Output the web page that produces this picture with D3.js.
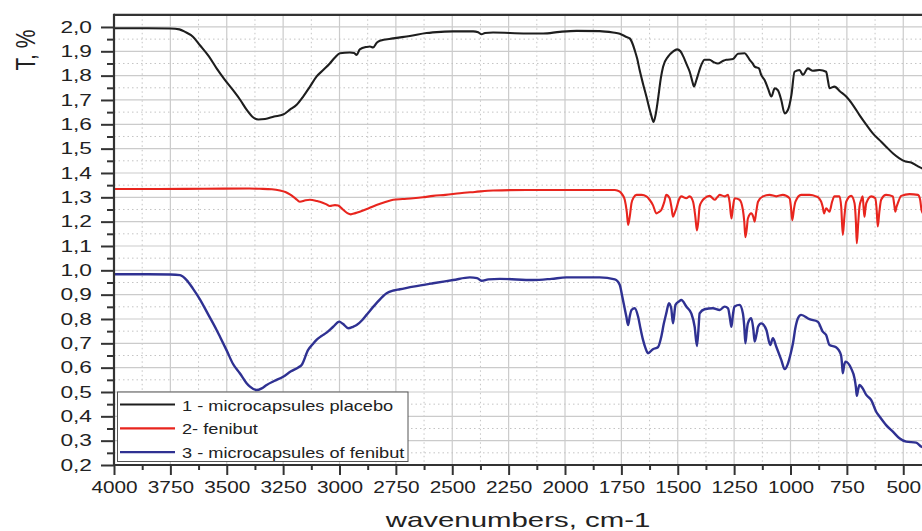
<!DOCTYPE html>
<html>
<head>
<meta charset="utf-8">
<script src="https://cdn.jsdelivr.net/npm/d3@7"></script>
<style>
body { margin: 0; background: #fff; }
svg { font-family: "Liberation Sans", Arial, sans-serif; }
</style>
</head>
<body>
<svg id="chart" width="922" height="531"></svg>
<script>
// spectres IR : [nombre d'onde cm-1, T]
const placebo = [[4000,1.995],[3850,1.995],[3750,1.994],[3710,1.99],[3685,1.98],[3650,1.96],[3619,1.925],[3580,1.88],[3545,1.83],[3510,1.785],[3472,1.74],[3440,1.70],[3412,1.66],[3385,1.63],[3360,1.62],[3330,1.622],[3290,1.632],[3250,1.64],[3220,1.66],[3190,1.68],[3161,1.714],[3131,1.755],[3102,1.796],[3070,1.825],[3043,1.85],[3020,1.875],[2998,1.892],[2954,1.895],[2935,1.893],[2924,1.885],[2910,1.908],[2880,1.918],[2865,1.92],[2851,1.916],[2835,1.935],[2821,1.943],[2762,1.953],[2688,1.963],[2614,1.975],[2550,1.98],[2496,1.982],[2407,1.982],[2385,1.978],[2370,1.97],[2355,1.975],[2319,1.977],[2171,1.973],[2097,1.973],[2023,1.98],[1949,1.984],[1846,1.983],[1787,1.977],[1757,1.972],[1730,1.96],[1713,1.953],[1700,1.93],[1691,1.905],[1680,1.87],[1669,1.823],[1655,1.77],[1639,1.714],[1620,1.645],[1607,1.61],[1598,1.64],[1588,1.70],[1575,1.79],[1565,1.837],[1543,1.878],[1520,1.90],[1503,1.908],[1488,1.9],[1475,1.878],[1460,1.845],[1447,1.816],[1435,1.775],[1428,1.755],[1418,1.78],[1406,1.816],[1395,1.845],[1381,1.865],[1359,1.865],[1340,1.855],[1322,1.85],[1300,1.86],[1285,1.865],[1255,1.868],[1233,1.89],[1203,1.892],[1190,1.878],[1181,1.865],[1168,1.85],[1159,1.837],[1140,1.83],[1130,1.803],[1115,1.782],[1100,1.748],[1085,1.714],[1070,1.748],[1056,1.74],[1041,1.70],[1026,1.645],[1011,1.66],[996,1.72],[982,1.816],[960,1.823],[945,1.803],[923,1.83],[901,1.82],[871,1.823],[842,1.816],[834,1.78],[827,1.748],[805,1.755],[780,1.735],[753,1.714],[720,1.675],[694,1.638],[665,1.60],[635,1.563],[605,1.535],[576,1.508],[545,1.48],[517,1.46],[490,1.447],[465,1.443],[440,1.43],[419,1.42],[400,1.415]];

const fenibut = [[4000,1.334],[3800,1.334],[3600,1.335],[3400,1.336],[3353,1.335],[3300,1.333],[3264,1.328],[3240,1.322],[3220,1.312],[3195,1.295],[3176,1.282],[3150,1.288],[3131,1.29],[3100,1.285],[3087,1.282],[3060,1.272],[3043,1.264],[3020,1.268],[3006,1.266],[2985,1.25],[2965,1.235],[2950,1.23],[2930,1.235],[2910,1.241],[2870,1.255],[2836,1.268],[2800,1.28],[2762,1.29],[2720,1.293],[2673,1.296],[2630,1.30],[2585,1.306],[2530,1.31],[2466,1.317],[2400,1.322],[2319,1.328],[2171,1.33],[2000,1.33],[1802,1.33],[1779,1.33],[1757,1.323],[1745,1.31],[1735,1.29],[1726,1.24],[1720,1.186],[1713,1.22],[1705,1.276],[1695,1.3],[1683,1.31],[1660,1.31],[1639,1.304],[1625,1.29],[1610,1.268],[1595,1.234],[1583,1.24],[1573,1.248],[1560,1.28],[1551,1.31],[1536,1.296],[1528,1.26],[1521,1.22],[1514,1.235],[1506,1.255],[1495,1.29],[1484,1.304],[1462,1.296],[1447,1.304],[1432,1.282],[1422,1.22],[1415,1.164],[1409,1.2],[1403,1.262],[1392,1.285],[1381,1.296],[1359,1.306],[1336,1.29],[1325,1.3],[1314,1.31],[1292,1.304],[1277,1.31],[1270,1.28],[1262,1.213],[1255,1.26],[1248,1.296],[1226,1.29],[1211,1.248],[1205,1.2],[1200,1.136],[1194,1.17],[1189,1.213],[1174,1.234],[1165,1.22],[1159,1.20],[1152,1.24],[1144,1.282],[1122,1.304],[1093,1.31],[1063,1.304],[1034,1.31],[1004,1.296],[998,1.26],[992,1.206],[985,1.25],[978,1.282],[953,1.31],[916,1.31],[887,1.304],[872,1.295],[864,1.282],[857,1.26],[851,1.234],[842,1.255],[827,1.241],[816,1.28],[805,1.304],[783,1.304],[775,1.26],[768,1.145],[761,1.22],[753,1.282],[731,1.306],[716,1.276],[710,1.2],[706,1.111],[700,1.19],[694,1.262],[686,1.29],[680,1.304],[676,1.26],[672,1.22],[668,1.25],[664,1.276],[642,1.304],[624,1.296],[618,1.25],[613,1.18],[606,1.24],[598,1.29],[576,1.31],[546,1.304],[540,1.27],[535,1.241],[530,1.26],[524,1.276],[509,1.306],[472,1.313],[435,1.31],[425,1.29],[419,1.248],[410,1.23]];

const microFenibut = [[4000,0.984],[3850,0.984],[3750,0.983],[3707,0.98],[3678,0.96],[3650,0.925],[3619,0.881],[3580,0.815],[3545,0.755],[3530,0.727],[3500,0.67],[3472,0.615],[3442,0.577],[3412,0.536],[3397,0.522],[3368,0.508],[3345,0.515],[3323,0.529],[3290,0.545],[3250,0.563],[3215,0.585],[3183,0.601],[3168,0.611],[3139,0.673],[3120,0.695],[3102,0.714],[3080,0.73],[3057,0.744],[3028,0.768],[3001,0.789],[2985,0.78],[2961,0.762],[2940,0.768],[2924,0.775],[2900,0.795],[2880,0.817],[2836,0.865],[2791,0.906],[2760,0.917],[2732,0.922],[2673,0.933],[2585,0.947],[2496,0.96],[2422,0.971],[2390,0.968],[2370,0.957],[2340,0.963],[2289,0.965],[2142,0.96],[2060,0.965],[1994,0.971],[1846,0.971],[1779,0.963],[1757,0.94],[1746,0.892],[1737,0.851],[1728,0.81],[1720,0.775],[1713,0.81],[1705,0.837],[1691,0.844],[1676,0.81],[1665,0.76],[1654,0.714],[1643,0.68],[1632,0.659],[1610,0.676],[1588,0.684],[1573,0.727],[1562,0.78],[1551,0.823],[1539,0.865],[1529,0.844],[1521,0.782],[1510,0.858],[1495,0.872],[1484,0.878],[1462,0.851],[1440,0.823],[1425,0.768],[1415,0.689],[1408,0.76],[1403,0.823],[1381,0.84],[1344,0.844],[1314,0.837],[1292,0.851],[1277,0.844],[1268,0.8],[1262,0.768],[1255,0.82],[1248,0.851],[1226,0.858],[1211,0.823],[1205,0.77],[1200,0.70],[1194,0.75],[1189,0.782],[1174,0.803],[1165,0.76],[1159,0.707],[1150,0.74],[1144,0.768],[1130,0.782],[1107,0.755],[1090,0.693],[1078,0.721],[1063,0.686],[1041,0.632],[1026,0.594],[1011,0.618],[1000,0.655],[989,0.70],[978,0.765],[967,0.803],[953,0.817],[916,0.799],[879,0.789],[857,0.748],[842,0.734],[827,0.693],[798,0.684],[776,0.652],[772,0.62],[768,0.577],[762,0.61],[756,0.625],[731,0.597],[716,0.556],[710,0.52],[706,0.484],[700,0.51],[694,0.529],[680,0.515],[664,0.488],[642,0.467],[620,0.419],[605,0.399],[576,0.364],[546,0.337],[517,0.31],[487,0.296],[443,0.292],[419,0.275],[400,0.27]];

const seriesNames = ["1 - microcapsules placebo", "2- fenibut", "3 - microcapsules of fenibut"];
const seriesColors = ["#1e1e1e", "#e8251e", "#2f3192"];

const xTickValues = [4000,3750,3500,3250,3000,2750,2500,2250,2000,1750,1500,1250,1000,750,500];
const yTickValues = [0.2,0.3,0.4,0.5,0.6,0.7,0.8,0.9,1.0,1.1,1.2,1.3,1.4,1.5,1.6,1.7,1.8,1.9,2.0];

const xTitle = "wavenumbers, cm-1";
const yTitle = "T, %";

// géométrie
const pLeft = 114, pRight = 925.8, pTop = 14.8, pBottom = 465;
const sx = 1.3;   // l'image d'origine est étirée en largeur

const x = d3.scaleLinear().domain([4000, 400]).range([pLeft, pRight]);
const y = d3.scaleLinear().domain([0.2, 2.05]).range([pBottom, pTop]);

const svg = d3.select("#chart");

svg.append("defs").append("clipPath").attr("id", "plot-clip")
  .append("rect").attr("x", pLeft).attr("y", pTop).attr("width", pRight - pLeft).attr("height", pBottom - pTop);

// grille
const xMinor = xTickValues.slice(1).map(d => d + 125);
const yMinor = yTickValues.slice(0, -1).map(d => d + 0.05);

const grid = svg.append("g").attr("class", "grid");
grid.selectAll(".gx").data(xTickValues.slice(1)).enter().append("line")
  .attr("x1", d => x(d)).attr("x2", d => x(d)).attr("y1", pTop).attr("y2", pBottom)
  .attr("stroke", "#cbcbcb").attr("stroke-width", 1.2);
grid.selectAll(".gxm").data(xMinor).enter().append("line")
  .attr("x1", d => x(d)).attr("x2", d => x(d)).attr("y1", pTop).attr("y2", pBottom)
  .attr("stroke", "#c4c4c4").attr("stroke-width", 1).attr("stroke-dasharray", "1.5,3");
grid.selectAll(".gy").data(yTickValues.slice(1)).enter().append("line")
  .attr("x1", pLeft).attr("x2", pRight).attr("y1", d => y(d)).attr("y2", d => y(d))
  .attr("stroke", "#cbcbcb").attr("stroke-width", 1.2);
grid.selectAll(".gym").data(yMinor).enter().append("line")
  .attr("x1", pLeft).attr("x2", pRight).attr("y1", d => y(d)).attr("y2", d => y(d))
  .attr("stroke", "#c4c4c4").attr("stroke-width", 1).attr("stroke-dasharray", "1.5,3");

// courbes
const line = d3.line()
  .curve(d3.curveMonotoneX)
  .x(d => x(d[0]))
  .y(d => y(d[1]));

const plot = svg.append("g").attr("clip-path", "url(#plot-clip)");
[placebo, fenibut, microFenibut].forEach(function(data, i) {
  plot.append("path")
    .datum(data)
    .attr("fill", "none")
    .attr("stroke", seriesColors[i])
    .attr("stroke-width", i == 2 ? 2.4 : 2.1)
    .attr("stroke-linejoin", "round")
    .attr("d", line);
});

// axes
const fmt = d => d.toFixed(1).replace(".", ",");

const xAxis = svg.append("g")
  .attr("transform", "translate(0," + pBottom + ")")
  .call(d3.axisBottom(x).tickValues(xTickValues).tickSize(10).tickPadding(7).tickFormat(d3.format("d")));
svg.append("g")
  .attr("transform", "translate(0," + pBottom + ")")
  .call(d3.axisBottom(x).tickValues(xMinor).tickSize(5).tickFormat(""));

const yAxis = svg.append("g")
  .attr("transform", "translate(" + pLeft + ",0)")
  .call(d3.axisLeft(y).tickValues(yTickValues).tickSize(13).tickPadding(9).tickFormat(fmt));
svg.append("g")
  .attr("transform", "translate(" + pLeft + ",0)")
  .call(d3.axisLeft(y).tickValues(yMinor).tickSize(7).tickFormat(""));

svg.selectAll(".domain").remove();
svg.selectAll(".tick line").attr("stroke", "#333").attr("stroke-width", 2);

xAxis.selectAll("text")
  .attr("fill", "#222").style("font-size", "16px")
  .attr("transform", "scale(" + sx + ",1)");
yAxis.selectAll("text")
  .attr("fill", "#222").style("font-size", "16px")
  .attr("x", -22 / 1.42)
  .attr("transform", "scale(1.42,1)");

// cadre
svg.append("line").attr("x1", pLeft).attr("x2", pRight + 2).attr("y1", pTop).attr("y2", pTop)
  .attr("stroke", "#333").attr("stroke-width", 2.2);
svg.append("line").attr("x1", pLeft).attr("x2", pRight + 2).attr("y1", pBottom).attr("y2", pBottom)
  .attr("stroke", "#333").attr("stroke-width", 2.2);
svg.append("line").attr("x1", pLeft).attr("x2", pLeft).attr("y1", pTop - 1).attr("y2", pBottom + 1)
  .attr("stroke", "#333").attr("stroke-width", 2.2);

// titres
svg.append("g")
  .attr("transform", "translate(518,527) scale(1.4,1)")
  .append("text")
  .attr("text-anchor", "middle")
  .attr("fill", "#222")
  .style("font-size", "21px")
  .text(xTitle);

svg.append("g")
  .attr("transform", "translate(35,50) scale(" + sx + ",1) rotate(-90)")
  .append("text")
  .attr("text-anchor", "middle")
  .attr("fill", "#222")
  .style("font-size", "21px")
  .text(yTitle);

// légende
const legend = svg.append("g").attr("class", "legend");
legend.append("rect")
  .attr("x", 117.5).attr("y", 392).attr("width", 290.5).attr("height", 69.5)
  .attr("fill", "#fff").attr("stroke", "#555").attr("stroke-width", 1);

const rows = legend.selectAll(".row").data(seriesNames).enter().append("g")
  .attr("transform", (d, i) => "translate(0," + (404.5 + i * 23.8) + ")");
rows.append("line")
  .attr("x1", 120).attr("x2", 175).attr("y1", 0).attr("y2", 0)
  .attr("stroke", (d, i) => seriesColors[i]).attr("stroke-width", 2.2);
rows.append("g")
  .attr("transform", "translate(182,6) scale(" + sx + ",1)")
  .append("text")
  .attr("fill", "#222")
  .style("font-size", "14px")
  .text(d => d);
</script>
</body>
</html>
